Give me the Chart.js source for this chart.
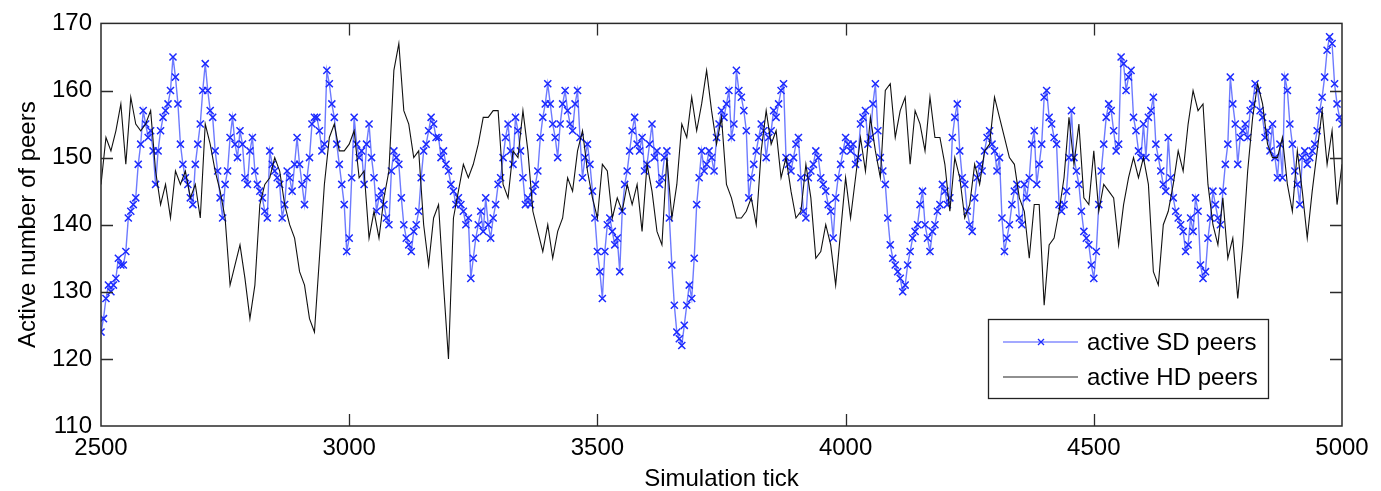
<!DOCTYPE html>
<html>
<head>
<meta charset="utf-8">
<script src="https://cdn.jsdelivr.net/npm/chart.js@4.4.0/dist/chart.umd.min.js"></script>
<style>
html,body{margin:0;padding:0;background:#fff;}
#wrap{width:1381px;height:491px;position:relative;background:#fff;}
canvas{display:block;}
</style>
</head>
<body>
<div id="wrap"><canvas id="c" width="1381" height="491"></canvas></div>
<script>
// Simulation ticks sampled for the HD series
const hdTicks = [
2500,2510,2520,2530,2540,2550,2560,2570,2580,2590,
2600,2610,2620,2630,2640,2650,2660,2670,2680,2690,
2700,2710,2720,2730,2740,2750,2760,2770,2780,2790,
2800,2810,2820,2830,2840,2850,2860,2870,2880,2890,
2900,2910,2920,2930,2940,2950,2960,2970,2980,2990,
3000,3010,3020,3030,3040,3050,3060,3070,3080,3090,
3100,3110,3120,3130,3140,3150,3160,3170,3180,3190,
3200,3210,3220,3230,3240,3250,3260,3270,3280,3290,
3300,3310,3320,3330,3340,3350,3360,3370,3380,3390,
3400,3410,3420,3430,3440,3450,3460,3470,3480,3490,
3500,3510,3520,3530,3540,3550,3560,3570,3580,3590,
3600,3610,3620,3630,3640,3650,3660,3670,3680,3690,
3700,3710,3720,3730,3740,3750,3760,3770,3780,3790,
3800,3810,3820,3830,3840,3850,3860,3870,3880,3890,
3900,3910,3920,3930,3940,3950,3960,3970,3980,3990,
4000,4010,4020,4030,4040,4050,4060,4070,4080,4090,
4100,4110,4120,4130,4140,4150,4160,4170,4180,4190,
4200,4210,4220,4230,4240,4250,4260,4270,4280,4290,
4300,4310,4320,4330,4340,4350,4360,4370,4380,4390,
4400,4410,4420,4430,4440,4450,4460,4470,4480,4490,
4500,4510,4520,4530,4540,4550,4560,4570,4580,4590,
4600,4610,4620,4630,4640,4650,4660,4670,4680,4690,
4700,4710,4720,4730,4740,4750,4760,4770,4780,4790,
4800,4810,4820,4830,4840,4850,4860,4870,4880,4890,
4900,4910,4920,4930,4940,4950,4960,4970,4980,4990,
5000];

// active HD peers
const hdPeers = [
146,153,151,154,158,149,159,155,154,155,
157,148,143,146,141,148,146,148,144,146,
141,155,152,148,145,141,131,134,137,132,
126,131,143,146,147,150,148,143,140,138,
133,131,126,124,135,146,153,155,151,151,
152,154,147,148,138,142,138,144,148,163,
167,157,155,150,151,140,134,141,143,131,
120,141,145,149,147,149,152,156,156,157,
157,146,144,151,150,157,151,142,139,136,
140,135,139,141,147,145,151,154,148,144,
141,149,148,141,144,142,146,143,146,139,
149,145,139,137,150,141,146,155,153,159,
154,158,163,157,152,156,146,144,141,141,
142,144,140,151,157,152,154,147,150,145,
141,142,149,144,135,136,140,137,131,139,
147,141,147,153,148,156,151,147,160,161,
153,157,159,149,157,155,151,159,153,153,
149,142,150,147,141,143,149,146,151,152,
159,156,153,150,149,144,142,135,143,143,
128,137,138,142,147,156,149,155,144,143,
151,142,146,145,144,137,143,147,150,147,
150,146,133,131,140,142,146,151,148,155,
160,157,158,146,140,137,144,135,138,129,
137,148,156,161,158,152,150,150,153,146,
142,151,145,138,145,151,157,149,154,143,
149];

// Simulation ticks sampled for the SD series
const sdTicks = [
2500,2505,2510,2515,2520,2525,2530,2535,2540,2545,2550,2555,2560,2565,2570,2575,2580,2585,2590,2595,
2600,2605,2610,2615,2620,2625,2630,2635,2640,2645,2650,2655,2660,2665,2670,2675,2680,2685,2690,2695,
2700,2705,2710,2715,2720,2725,2730,2735,2740,2745,2750,2755,2760,2765,2770,2775,2780,2785,2790,2795,
2800,2805,2810,2815,2820,2825,2830,2835,2840,2845,2850,2855,2860,2865,2870,2875,2880,2885,2890,2895,
2900,2905,2910,2915,2920,2925,2930,2935,2940,2945,2950,2955,2960,2965,2970,2975,2980,2985,2990,2995,
3000,3005,3010,3015,3020,3025,3030,3035,3040,3045,3050,3055,3060,3065,3070,3075,3080,3085,3090,3095,
3100,3105,3110,3115,3120,3125,3130,3135,3140,3145,3150,3155,3160,3165,3170,3175,3180,3185,3190,3195,
3200,3205,3210,3215,3220,3225,3230,3235,3240,3245,3250,3255,3260,3265,3270,3275,3280,3285,3290,3295,
3300,3305,3310,3315,3320,3325,3330,3335,3340,3345,3350,3355,3360,3365,3370,3375,3380,3385,3390,3395,
3400,3405,3410,3415,3420,3425,3430,3435,3440,3445,3450,3455,3460,3465,3470,3475,3480,3485,3490,3495,
3500,3505,3510,3515,3520,3525,3530,3535,3540,3545,3550,3555,3560,3565,3570,3575,3580,3585,3590,3595,
3600,3605,3610,3615,3620,3625,3630,3635,3640,3645,3650,3655,3660,3665,3670,3675,3680,3685,3690,3695,
3700,3705,3710,3715,3720,3725,3730,3735,3740,3745,3750,3755,3760,3765,3770,3775,3780,3785,3790,3795,
3800,3805,3810,3815,3820,3825,3830,3835,3840,3845,3850,3855,3860,3865,3870,3875,3880,3885,3890,3895,
3900,3905,3910,3915,3920,3925,3930,3935,3940,3945,3950,3955,3960,3965,3970,3975,3980,3985,3990,3995,
4000,4005,4010,4015,4020,4025,4030,4035,4040,4045,4050,4055,4060,4065,4070,4075,4080,4085,4090,4095,
4100,4105,4110,4115,4120,4125,4130,4135,4140,4145,4150,4155,4160,4165,4170,4175,4180,4185,4190,4195,
4200,4205,4210,4215,4220,4225,4230,4235,4240,4245,4250,4255,4260,4265,4270,4275,4280,4285,4290,4295,
4300,4305,4310,4315,4320,4325,4330,4335,4340,4345,4350,4355,4360,4365,4370,4375,4380,4385,4390,4395,
4400,4405,4410,4415,4420,4425,4430,4435,4440,4445,4450,4455,4460,4465,4470,4475,4480,4485,4490,4495,
4500,4505,4510,4515,4520,4525,4530,4535,4540,4545,4550,4555,4560,4565,4570,4575,4580,4585,4590,4595,
4600,4605,4610,4615,4620,4625,4630,4635,4640,4645,4650,4655,4660,4665,4670,4675,4680,4685,4690,4695,
4700,4705,4710,4715,4720,4725,4730,4735,4740,4745,4750,4755,4760,4765,4770,4775,4780,4785,4790,4795,
4800,4805,4810,4815,4820,4825,4830,4835,4840,4845,4850,4855,4860,4865,4870,4875,4880,4885,4890,4895,
4900,4905,4910,4915,4920,4925,4930,4935,4940,4945,4950,4955,4960,4965,4970,4975,4980,4985,4990,4995,
5000];

// active SD peers
const sdPeers = [
124,126,129,131,130,131,132,135,134,134,136,141,142,143,144,149,152,157,155,153,
154,151,146,151,154,156,157,158,160,165,162,158,152,149,147,146,144,143,149,152,
155,160,164,160,157,156,151,148,144,141,146,148,153,156,152,150,154,152,147,146,
151,153,148,146,145,144,142,141,151,149,148,147,146,141,143,148,147,145,149,153,
149,146,143,147,150,155,156,156,154,151,152,163,161,158,156,152,149,146,143,136,
138,147,156,152,150,151,146,152,155,150,147,142,144,145,143,141,140,148,151,150,
149,144,140,138,137,136,139,140,142,147,151,152,154,156,155,153,153,150,151,149,
148,146,145,143,144,143,142,140,141,132,135,138,140,142,139,144,140,138,141,143,
146,147,150,153,155,151,149,156,154,151,147,143,144,143,145,146,148,153,156,158,
161,158,155,153,150,155,158,160,157,155,154,158,160,153,147,150,152,149,145,141,
136,133,129,136,140,141,139,137,138,133,142,146,148,151,154,156,152,151,153,148,
149,152,155,150,151,146,147,150,151,141,134,128,124,123,122,125,128,131,129,135,
143,147,151,148,149,151,150,148,153,155,157,156,158,160,153,155,163,160,159,157,
154,144,147,149,151,153,155,154,150,153,154,157,156,158,160,161,150,149,148,150,
152,153,147,142,141,147,148,149,151,150,147,146,145,143,142,138,144,147,149,151,
153,152,151,152,149,150,155,156,157,152,153,158,161,154,150,148,146,141,137,135,
134,133,132,130,131,134,136,138,139,140,143,145,140,138,136,139,140,142,143,146,
145,143,144,153,156,158,151,147,146,142,140,139,144,147,149,148,151,153,154,152,
151,148,150,141,136,138,140,143,145,146,141,140,146,144,147,152,154,146,149,152,
159,160,156,155,153,152,143,142,143,145,150,157,150,148,146,142,139,138,137,134,
132,136,143,148,152,156,158,157,154,151,152,165,164,160,162,163,156,154,151,150,
155,150,156,157,159,152,150,148,146,145,153,147,144,142,141,140,139,136,137,141,
139,144,142,134,132,133,138,141,145,143,141,140,145,149,152,162,158,155,149,153,
154,155,153,157,158,161,160,157,156,153,154,151,155,150,147,152,147,162,160,155,
152,148,146,143,150,151,149,150,151,152,154,157,159,162,166,168,167,161,158,156,
155];

const seriesNames = ['active SD peers', 'active HD peers'];
const xAxisTitle = 'Simulation tick';
const yAxisTitle = 'Active number of peers';
const xRange = [2500, 5000];
const yRange = [110, 170];
const xStep = 500;
const yStep = 10;

const SD_MARK = 'rgb(28,42,255)';
const SD_LINE = 'rgba(60,78,255,0.75)';
const HD_LINE = '#111111';
const FONT = '"Liberation Sans", Arial, Helvetica, sans-serif';

Chart.defaults.font.family = FONT;
Chart.defaults.font.size = 24;
Chart.defaults.color = '#000';

const toPts = (xs, ys) => xs.map((t, i) => ({x: t, y: ys[i]}));

const framePlugin = {
  id: 'frame',
  afterDraw(chart) {
    const {ctx, chartArea: a, scales: {x, y}} = chart;
    ctx.save();
    ctx.strokeStyle = '#2a2a2a';
    ctx.lineWidth = 1.5;
    ctx.strokeRect(a.left, a.top, a.right - a.left, a.bottom - a.top);
    const tl = 12;
    ctx.beginPath();
    x.ticks.forEach(t => {
      const px = Math.round(x.getPixelForValue(t.value)) + 0.5;
      if (px <= a.left + 2 || px >= a.right - 2) return;
      ctx.moveTo(px, a.bottom); ctx.lineTo(px, a.bottom - tl);
      ctx.moveTo(px, a.top); ctx.lineTo(px, a.top + tl);
    });
    y.ticks.forEach(t => {
      const py = Math.round(y.getPixelForValue(t.value)) + 0.5;
      if (py <= a.top + 2 || py >= a.bottom - 2) return;
      ctx.moveTo(a.left, py); ctx.lineTo(a.left + tl, py);
      ctx.moveTo(a.right, py); ctx.lineTo(a.right - tl, py);
    });
    ctx.lineWidth = 1.3;
    ctx.stroke();

    // legend box
    const bx = 988, by = 319, bw = 280, bh = 79;
    ctx.fillStyle = '#fff';
    ctx.fillRect(bx, by, bw, bh);
    ctx.strokeStyle = '#222';
    ctx.lineWidth = 1.3;
    ctx.strokeRect(bx + 0.5, by + 0.5, bw, bh);
    const rows = [342, 377];
    ctx.strokeStyle = 'rgba(110,120,255,0.85)';
    ctx.lineWidth = 1.3;
    ctx.beginPath(); ctx.moveTo(1003, rows[0]); ctx.lineTo(1078, rows[0]); ctx.stroke();
    ctx.strokeStyle = SD_MARK; ctx.lineWidth = 1.3;
    ctx.beginPath();
    const mx = 1041, m = 3;
    ctx.moveTo(mx - m, rows[0] - m); ctx.lineTo(mx + m, rows[0] + m);
    ctx.moveTo(mx - m, rows[0] + m); ctx.lineTo(mx + m, rows[0] - m);
    ctx.stroke();
    ctx.strokeStyle = '#222'; ctx.lineWidth = 1.2;
    ctx.beginPath(); ctx.moveTo(1003, rows[1]); ctx.lineTo(1078, rows[1]); ctx.stroke();
    ctx.fillStyle = '#000';
    ctx.font = '24px ' + FONT;
    ctx.textAlign = 'left';
    ctx.textBaseline = 'middle';
    ctx.fillText(seriesNames[0], 1087, rows[0] + 1);
    ctx.fillText(seriesNames[1], 1087, rows[1] + 1);
    ctx.restore();
  }
};

new Chart(document.getElementById('c'), {
  type: 'line',
  data: {
    datasets: [
      {
        label: seriesNames[0],
        data: toPts(sdTicks, sdPeers),
        borderColor: SD_LINE,
        borderWidth: 1.4,
        pointStyle: 'crossRot',
        pointRadius: 5,
        pointBorderColor: SD_MARK,
        pointBorderWidth: 1.5,
        pointBackgroundColor: SD_MARK,
        tension: 0,
        order: 2
      },
      {
        label: seriesNames[1],
        data: toPts(hdTicks, hdPeers),
        borderColor: HD_LINE,
        borderWidth: 1.1,
        pointRadius: 0,
        tension: 0,
        order: 1
      }
    ]
  },
  options: {
    responsive: false,
    animation: false,
    devicePixelRatio: 1,
    layout: {padding: {top: 16, right: 39, left: 0, bottom: 0}},
    plugins: {legend: {display: false}, tooltip: {enabled: false}},
    scales: {
      x: {
        type: 'linear',
        min: xRange[0], max: xRange[1],
        ticks: {stepSize: xStep, padding: 8, maxRotation: 0, color: '#000', font: {size: 24}, callback: v => String(v)},
        grid: {display: false, drawTicks: false},
        border: {display: false},
        title: {display: true, text: xAxisTitle, color: '#000', font: {size: 24, lineHeight: 1}, padding: {top: 0, bottom: 0}},
        afterFit(s) { s.height = 65; }
      },
      y: {
        type: 'linear',
        min: yRange[0], max: yRange[1],
        ticks: {stepSize: yStep, padding: 9, color: '#000', font: {size: 24}, callback: v => String(v)},
        grid: {display: false, drawTicks: false},
        border: {display: false},
        title: {display: true, text: yAxisTitle, color: '#000', font: {size: 24, lineHeight: 1}, padding: {top: 16, bottom: 0}},
        afterFit(s) { s.width = 101; }
      }
    }
  },
  plugins: [framePlugin]
});
</script>
</body>
</html>
